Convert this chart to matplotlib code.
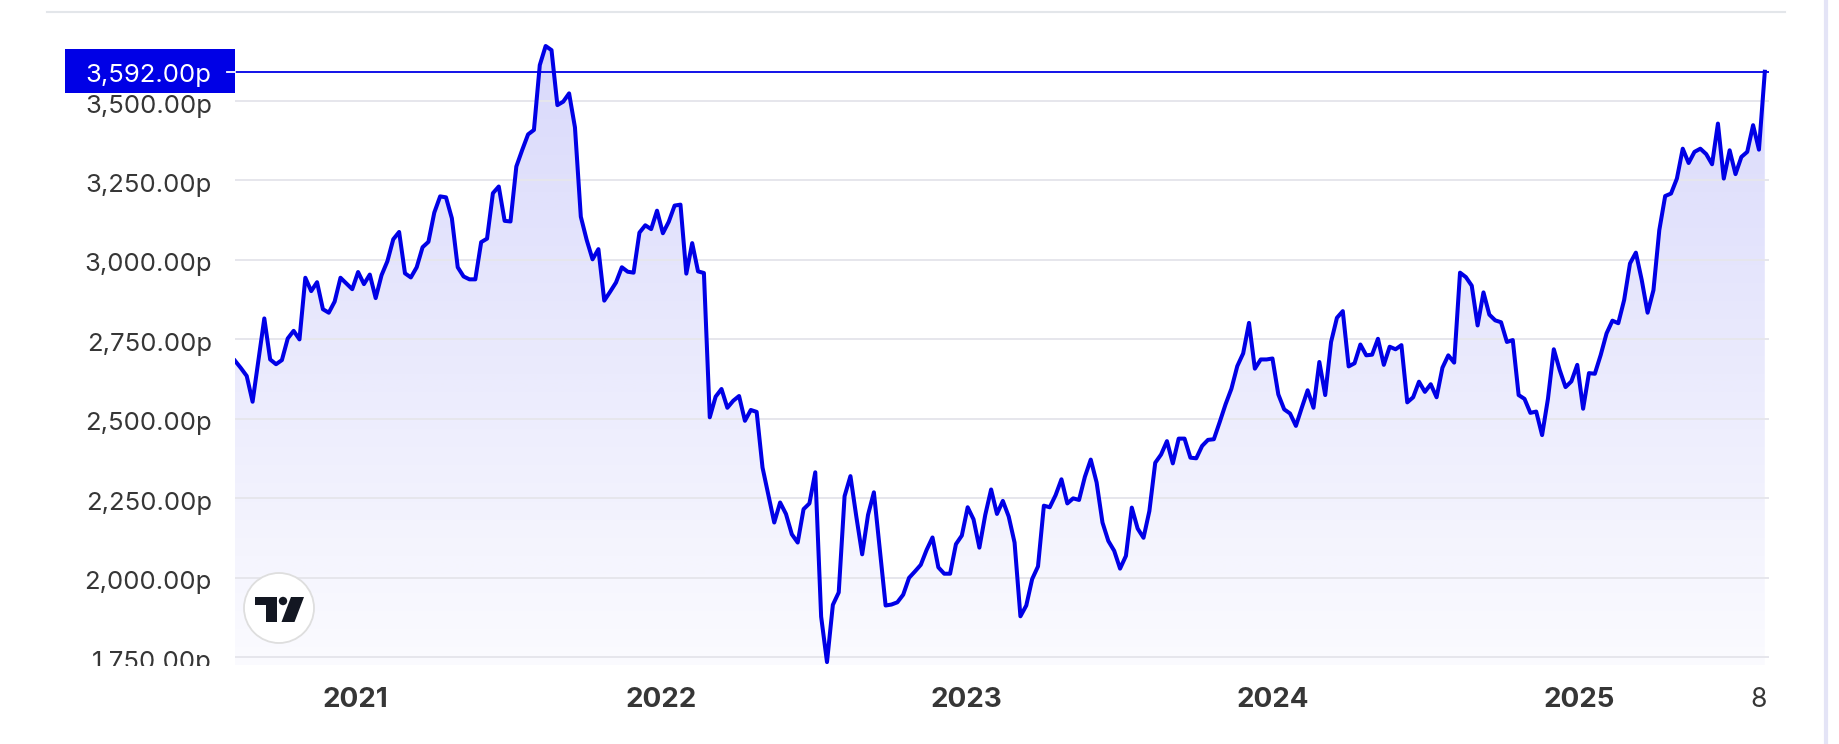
import numpy as np
import pandas as pd
import matplotlib
matplotlib.use("Agg")
import matplotlib.pyplot as plt
import matplotlib.dates as mdates
from matplotlib import transforms
from matplotlib.transforms import Bbox, TransformedBbox, IdentityTransform
from matplotlib.patches import Rectangle, Circle, Polygon, PathPatch
from matplotlib.path import Path
from matplotlib.lines import Line2D

# ---------------- data ----------------
start_date = "2020-08-10"
prices = [
    2683, 2660, 2635, 2554, 2685, 2816, 2687, 2672, 2685, 2753,
    2777, 2750, 2944, 2902, 2930, 2845, 2834, 2869, 2944, 2926,
    2908, 2962, 2924, 2954, 2880, 2952, 2996, 3065, 3088, 2958,
    2945, 2977, 3040, 3057, 3149, 3200, 3197, 3131, 2977, 2948,
    2939, 2939, 3056, 3067, 3210, 3231, 3123, 3121, 3294, 3346,
    3395, 3409, 3613, 3673, 3660, 3487, 3498, 3524, 3417, 3136,
    3063, 3002, 3034, 2872, 2900, 2929, 2977, 2963, 2960, 3086,
    3109, 3097, 3155, 3084, 3120, 3171, 3174, 2957, 3053, 2964,
    2959, 2505, 2570, 2594, 2535, 2557, 2572, 2494, 2528, 2522,
    2347, 2261, 2174, 2237, 2201, 2137, 2111, 2216, 2234, 2332,
    1878, 1735, 1915, 1954, 2257, 2320, 2193, 2074, 2198, 2269,
    2090, 1913, 1916, 1923, 1947, 2000, 2020, 2041, 2088, 2127,
    2033, 2013, 2013, 2106, 2133, 2222, 2184, 2095, 2198, 2278,
    2201, 2242, 2193, 2111, 1879, 1913, 1996, 2036, 2227, 2222,
    2260, 2310, 2234, 2250, 2245, 2318, 2372, 2300, 2174, 2116,
    2085, 2029, 2069, 2221, 2155, 2126, 2210, 2362, 2388, 2430,
    2360, 2438, 2438, 2378, 2376, 2415, 2434, 2436, 2490, 2546,
    2595, 2666, 2706, 2802, 2658, 2687, 2687, 2690, 2577, 2530,
    2517, 2478, 2535, 2590, 2535, 2679, 2575, 2742, 2818, 2839,
    2665, 2675, 2734, 2700, 2702, 2752, 2670, 2727, 2719, 2732,
    2552, 2568, 2617, 2585, 2609, 2568, 2661, 2700, 2677, 2960,
    2946, 2919, 2794, 2898, 2828, 2810, 2804, 2742, 2748, 2575,
    2563, 2519, 2523, 2449, 2563, 2719, 2654, 2600, 2618, 2670,
    2532, 2644, 2642, 2701, 2769, 2809, 2801, 2874, 2989, 3023,
    2937, 2834, 2905, 3094, 3201, 3209, 3256, 3350, 3305, 3340,
    3350, 3333, 3301, 3429, 3256, 3345, 3270, 3324, 3340, 3424,
    3347, 3592,
]
y_ticks = [1750, 2000, 2250, 2500, 2750, 3000, 3250, 3500]
year_tick_dates = ["2021-01-01", "2022-01-01", "2023-01-01", "2024-01-01", "2025-01-01"]
year_tick_labels = ["2021", "2022", "2023", "2024", "2025"]
end_tick_date = "2025-08-04"
end_tick_label = "8"

# ---------------- figure ----------------
W, H = 1840, 744
fig = plt.figure(figsize=(W / 100, H / 100), dpi=100)
fig.patch.set_facecolor("white")

def fx(px):
    return px / W

def fy(py):
    return 1 - py / H

BLUE = "#0000e6"
TXT = "#363636"
FONT = ["Inter", "DejaVu Sans"]

ax_left, ax_right, ax_top, ax_bot = 235, 1769, 12, 665
ax = fig.add_axes([fx(ax_left), fy(ax_bot), fx(ax_right) - fx(ax_left), fy(ax_top) - fy(ax_bot)])
ax.set_facecolor("none")

dates = pd.date_range(start_date, periods=len(prices), freq="7D")
xs = mdates.date2num(dates)
ys = np.array(prices, dtype=float)

y_lo, y_hi = 1725.8, 3780.0
x_lo, x_hi = xs[0], xs[-1] + 5

# gradient fill under the line
verts = list(zip(xs, ys)) + [(xs[-1], y_lo), (xs[0], y_lo)]
clip_patch = PathPatch(Path(verts, closed=False), transform=ax.transData,
                       facecolor="none", edgecolor="none")
ax.add_patch(clip_patch)
n = 256
alpha = np.linspace(0.16, 0.02, n)
grad = np.zeros((n, 2, 4))
grad[..., 2] = 230 / 255
grad[..., 3] = alpha[:, None]
im = ax.imshow(grad, extent=[x_lo, x_hi, y_lo, y_hi], aspect="auto",
               origin="upper", zorder=1, interpolation="bilinear")
im.set_clip_path(clip_patch)

ax.plot(xs, ys, color=BLUE, lw=2.9, zorder=4, solid_joinstyle="round")
ax.axhline(ys[-1], color=BLUE, lw=1.3, zorder=3.5)

ax.set_xlim(x_lo, x_hi)
ax.set_ylim(y_lo, y_hi)
ax.set_yticks(y_ticks)
ax.set_xticks([])
ax.set_axisbelow(False)
ax.grid(axis="y", color="#e6e6ec", lw=1.4, zorder=2)
ax.tick_params(left=False, labelleft=False, bottom=False, labelbottom=False)
for s in ax.spines.values():
    s.set_visible(False)

# y tick labels (manual, last one clipped at pane bottom)
ytrans = transforms.offset_copy(
    transforms.blended_transform_factory(fig.transFigure, ax.transData),
    fig=fig, y=-11.5, units="dots")
clip_box = TransformedBbox(Bbox.from_extents(0, fy(ax_bot + 0.5), 1, 1), fig.transFigure)
for v in y_ticks:
    t = fig.text(fx(212), v, f"{v:,.2f}p", transform=ytrans, ha="right", va="baseline",
                 fontsize=18.5, color=TXT, family=FONT)
    t.set_clip_box(clip_box)
    t.set_clip_on(True)

# current price label
fig.add_artist(Rectangle((65, H - 93), 170, 44, transform=IdentityTransform(),
                         facecolor=BLUE, edgecolor="none", zorder=5))
fig.add_artist(Line2D([227, 235], [H - 72, H - 72], transform=IdentityTransform(),
                      color="white", lw=1.3, zorder=6))
ptrans = transforms.offset_copy(
    transforms.blended_transform_factory(fig.transFigure, ax.transData),
    fig=fig, y=-10.5, units="dots")
fig.text(fx(211), ys[-1], f"{ys[-1]:,.2f}p", transform=ptrans, ha="right",
         va="baseline", fontsize=18.5, color="white", family=FONT, zorder=7)

# x labels
xtrans = transforms.blended_transform_factory(ax.transData, fig.transFigure)
for d, lab in zip(year_tick_dates, year_tick_labels):
    fig.text(mdates.date2num(pd.Timestamp(d)), fy(707), lab, transform=xtrans,
             ha="center", va="baseline", fontsize=20, fontweight="bold",
             color=TXT, family=FONT)
fig.text(mdates.date2num(pd.Timestamp(end_tick_date)), fy(707), end_tick_label,
         transform=xtrans, ha="center", va="baseline", fontsize=19,
         color=TXT, family=FONT)

# frame decorations
fig.add_artist(Line2D([47, 1785], [H - 12, H - 12], transform=IdentityTransform(),
                      color="#e3e6ea", lw=1.5))
fig.add_artist(Line2D([1826, 1826], [0, H], transform=IdentityTransform(),
                      color="#e4e4f6", lw=3))

# TradingView logo
def P(x, y):
    return (x, H - y)

fig.add_artist(Circle(P(279, 608), 35, transform=IdentityTransform(),
                      facecolor="white", edgecolor="#dedede", lw=1.3, zorder=8))
dark = "#131722"
fig.add_artist(Polygon([P(255, 597), P(277, 597), P(277, 622), P(266, 622), P(266, 605), P(255, 605)],
                       closed=True, transform=IdentityTransform(), facecolor=dark,
                       edgecolor="none", zorder=9))
fig.add_artist(Circle(P(283, 601), 4.2, transform=IdentityTransform(),
                      facecolor=dark, edgecolor="none", zorder=9))
fig.add_artist(Polygon([P(291, 597), P(304, 597), P(294.5, 622), P(281.5, 622)],
                       closed=True, transform=IdentityTransform(), facecolor=dark,
                       edgecolor="none", zorder=9))

fig.savefig("out.png", dpi=100)
